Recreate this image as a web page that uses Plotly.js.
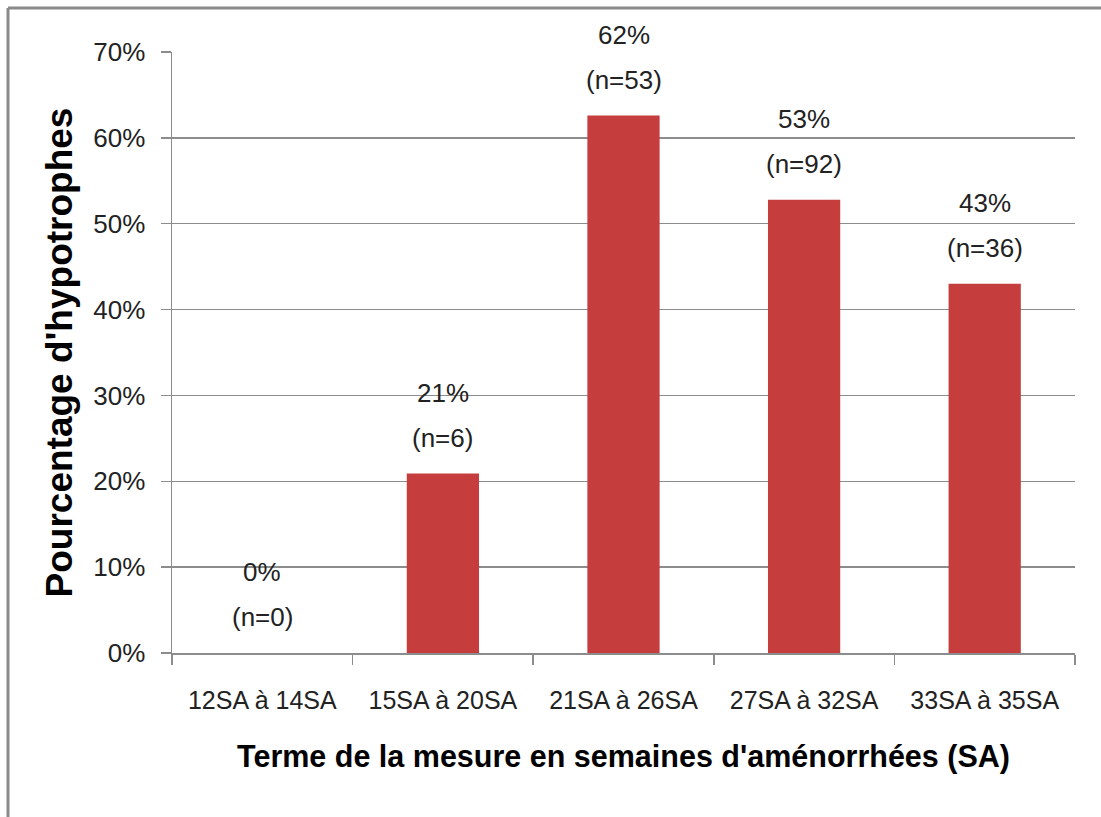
<!DOCTYPE html>
<html>
<head>
<meta charset="utf-8">
<script src="https://cdn.plot.ly/plotly-3.0.1.min.js"></script>
<style>html,body{margin:0;padding:0;background:#fff;}#chart{width:1101px;height:817px;}</style>
</head>
<body>
<div id="chart"></div>
<script>
var categories = ["12SA à 14SA", "15SA à 20SA", "21SA à 26SA", "27SA à 32SA", "33SA à 35SA"];
var percentages = [0, 20.9, 62.6, 52.8, 43.0];
var pctLabels = ["0%", "21%", "62%", "53%", "43%"];
var nLabels = ["(n=0)", "(n=6)", "(n=53)", "(n=92)", "(n=36)"];
var yTickVals = [0, 10, 20, 30, 40, 50, 60, 70];
var yTickText = ["0%", "10%", "20%", "30%", "40%", "50%", "60%", "70%"];

var fam = "'Liberation Sans', Arial, sans-serif";
var textColor = "#222222";
var gridColor = "#8c8c8c";

var trace = {
  type: "bar",
  x: categories,
  y: percentages,
  marker: { color: "#c53d3d", line: { width: 0 } },
  hoverinfo: "x+y",
  showlegend: false
};

var annotations = [];
categories.forEach(function (c, i) {
  annotations.push({ x: c, y: percentages[i], xref: "x", yref: "y", text: pctLabels[i],
    showarrow: false, yanchor: "middle", yshift: 81,
    font: { family: fam, size: 26, color: textColor } });
  annotations.push({ x: c, y: percentages[i], xref: "x", yref: "y", text: nLabels[i],
    showarrow: false, yanchor: "middle", yshift: 36,
    font: { family: fam, size: 26, color: textColor } });
});

var layout = {
  width: 1101, height: 817,
  margin: { l: 172, r: 26, t: 52, b: 164 },
  paper_bgcolor: "#ffffff", plot_bgcolor: "#ffffff",
  bargap: 0.6,
  xaxis: {
    type: "category",
    showline: true, linecolor: gridColor, linewidth: 1.5,
    ticks: "outside", ticklen: 10, tickcolor: gridColor, tickwidth: 1.5,
    tickson: "boundaries",
    tickangle: 0,
    showgrid: false,
    ticklabelstandoff: 24,
    tickfont: { family: fam, size: 25, color: textColor },
    title: { text: "Terme de la mesure en semaines d'aménorrhées (SA)", standoff: 33,
      font: { family: fam, size: 30.5, color: "#000", weight: "bold" } }
  },
  yaxis: {
    range: [0, 70], tickvals: yTickVals, ticktext: yTickText,
    showline: true, linecolor: gridColor, linewidth: 1.5,
    ticks: "outside", ticklen: 10, tickcolor: gridColor, tickwidth: 1.5,
    showgrid: true, gridcolor: gridColor, gridwidth: 1.5,
    zeroline: false,
    ticklabelstandoff: 10,
    tickfont: { family: fam, size: 26, color: textColor },
    title: { text: "Pourcentage d'hypotrophes", standoff: 9,
      font: { family: fam, size: 37, color: "#000", weight: "bold" } }
  },
  annotations: annotations,
  shapes: [
    { type: "line", xref: "paper", yref: "paper", x0: -0.1816, x1: 1.03, y0: 1.0732, y1: 1.0732,
      line: { color: "#8a8a8a", width: 3 } },
    { type: "line", xref: "paper", yref: "paper", x0: -0.1816, x1: -0.1816, y0: 1.0732, y1: -0.28,
      line: { color: "#8a8a8a", width: 3 } }
  ]
};

Plotly.newPlot("chart", [trace], layout, { displayModeBar: false, staticPlot: true });
</script>
</body>
</html>
